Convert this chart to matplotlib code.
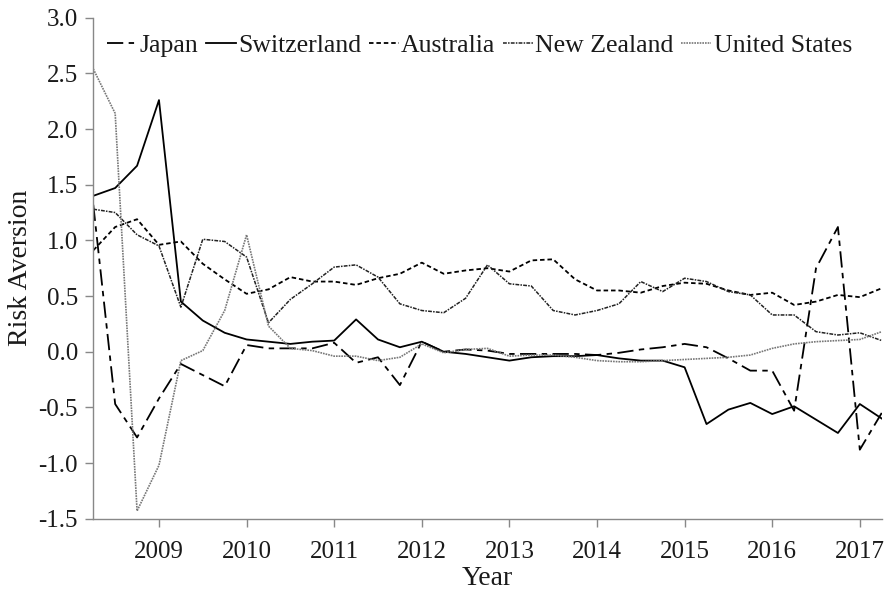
import numpy as np
import matplotlib
matplotlib.use("Agg")
from matplotlib import pyplot as plt

plt.rcParams["font.family"] = ["Liberation Serif", "DejaVu Serif"]
plt.rcParams["axes.unicode_minus"] = False

# quarterly, 2008Q2 .. 2017Q2
quarters = np.arange(37) * 0.25 + 2008.25

japan = [1.32, -0.47, -0.77, -0.42, -0.11, -0.21, -0.31, 0.06, 0.03, 0.03,
         0.03, 0.08, -0.10, -0.05, -0.30, 0.09, 0.00, 0.02, 0.01, -0.02,
         -0.02, -0.02, -0.02, -0.03, -0.01, 0.02, 0.04, 0.07, 0.04, -0.06,
         -0.17, -0.17, -0.53, 0.75, 1.12, -0.88, -0.55]
switzerland = [1.40, 1.47, 1.67, 2.26, 0.45, 0.28, 0.17, 0.11, 0.09, 0.07,
               0.09, 0.10, 0.29, 0.11, 0.04, 0.09, 0.00, -0.02, -0.05, -0.08,
               -0.05, -0.04, -0.04, -0.03, -0.06, -0.08, -0.08, -0.14, -0.65, -0.52,
               -0.46, -0.56, -0.49, -0.61, -0.73, -0.47, -0.60]
australia = [0.91, 1.12, 1.19, 0.96, 0.99, 0.79, 0.65, 0.52, 0.56, 0.67,
             0.63, 0.63, 0.60, 0.66, 0.70, 0.80, 0.70, 0.73, 0.75, 0.72,
             0.82, 0.83, 0.65, 0.55, 0.55, 0.53, 0.59, 0.62, 0.61, 0.55,
             0.51, 0.53, 0.42, 0.45, 0.51, 0.49, 0.57]
new_zealand = [1.28, 1.25, 1.05, 0.95, 0.40, 1.01, 0.99, 0.85, 0.26, 0.47,
               0.61, 0.76, 0.78, 0.67, 0.43, 0.37, 0.35, 0.48, 0.78, 0.61,
               0.59, 0.37, 0.33, 0.37, 0.43, 0.63, 0.54, 0.66, 0.63, 0.54,
               0.51, 0.33, 0.33, 0.18, 0.15, 0.17, 0.10]
united_states = [2.54, 2.14, -1.43, -1.02, -0.08, 0.01, 0.37, 1.05, 0.23, 0.03,
                 0.01, -0.04, -0.04, -0.08, -0.05, 0.07, -0.01, 0.02, 0.03, -0.04,
                 -0.03, -0.03, -0.05, -0.08, -0.09, -0.09, -0.08, -0.07, -0.06, -0.05,
                 -0.03, 0.03, 0.07, 0.09, 0.10, 0.11, 0.18]

year_ticks = list(range(2009, 2018))
y_ticks = [-1.5, -1.0, -0.5, 0.0, 0.5, 1.0, 1.5, 2.0, 2.5, 3.0]

fig = plt.figure(figsize=(8.9, 5.92), dpi=100)
ax = fig.add_axes([0.1048, 0.1238, 0.8859, 0.8463])

ax.plot(quarters, japan, color="black", lw=1.3, linestyle=(0, (9, 3, 3, 3)), label="Japan")
ax.plot(quarters, switzerland, color="black", lw=1.3, linestyle="-", label="Switzerland")
ax.plot(quarters, australia, color="black", lw=1.3, linestyle=(0, (2.5, 1.6)), label="Australia")
ax.plot(quarters, new_zealand, color="#222222", lw=1.1, linestyle=(0, (2.5, 0.8, 1, 0.8)), label="New Zealand")
ax.plot(quarters, united_states, color="#777777", lw=1.2, linestyle=(0, (1, 0.6)), label="United States")

ax.set_xlim(2008.25, 2017.25)
ax.set_ylim(-1.5, 3.0)
ax.set_xticks(year_ticks)
ax.set_xticklabels([str(y) for y in year_ticks])
ax.set_yticks(y_ticks)
ax.set_yticklabels(["%.1f" % v for v in y_ticks])

for s in ["top", "right"]:
    ax.spines[s].set_visible(False)
for s in ["left", "bottom"]:
    ax.spines[s].set_color("#888888")
    ax.spines[s].set_linewidth(1.0)
ax.tick_params(axis="both", direction="out", length=6, width=1.0, color="#888888",
               labelsize=18, labelcolor="#1a1a1a")
ax.tick_params(axis="y", pad=5)
ax.tick_params(axis="x", pad=10)

ax.set_xlabel("Year", fontsize=20, color="#1a1a1a", labelpad=2)
ax.set_ylabel("Risk Aversion", fontsize=20, color="#1a1a1a", labelpad=4)

ax.legend(loc="upper center", bbox_to_anchor=(0.49, 1.013), ncol=5, frameon=False,
          fontsize=18.5, handlelength=1.15, handletextpad=0.1, columnspacing=0.3,
          labelcolor="#1a1a1a")

fig.savefig("out.png", dpi=100)
